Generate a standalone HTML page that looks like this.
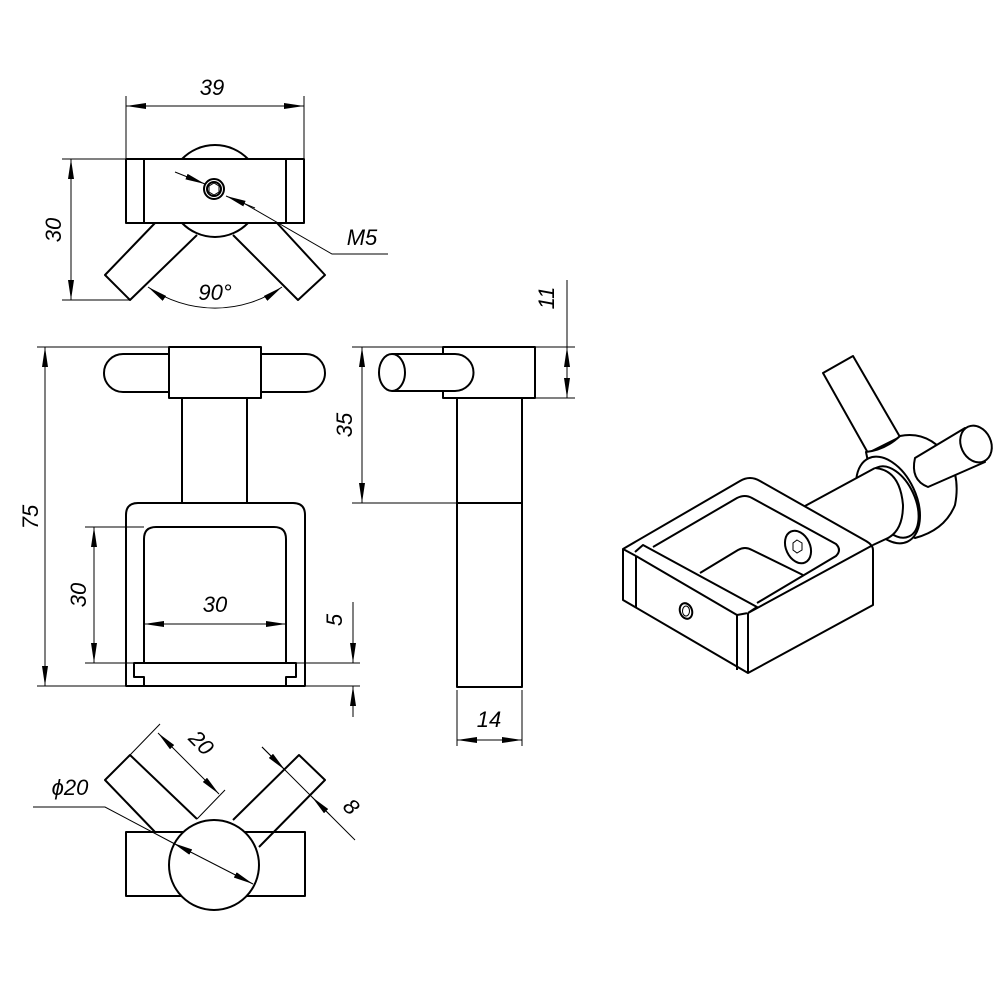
<!DOCTYPE html>
<html><head><meta charset="utf-8">
<style>
html,body{margin:0;padding:0;background:#fff;}
svg{display:block;}
text{font-family:"Liberation Sans",sans-serif;font-style:italic;font-size:22px;fill:#000;}
</style></head><body>
<svg width="1000" height="1000" viewBox="0 0 1000 1000" xmlns="http://www.w3.org/2000/svg">
<defs>
<marker id="a" viewBox="0 0 20 6" refX="20" refY="3" markerWidth="20" markerHeight="6" markerUnits="userSpaceOnUse" orient="auto-start-reverse">
<path d="M0,0 L20,3 L0,6 Z" fill="#000"/></marker>
</defs>
<g fill="none" stroke="#000" stroke-width="1">
<!-- TOP VIEW dims -->
<line x1="126" y1="96" x2="126" y2="158"/>
<line x1="304" y1="96" x2="304" y2="158"/>
<line x1="126" y1="106" x2="304" y2="106" marker-start="url(#a)" marker-end="url(#a)"/>
<line x1="62" y1="159" x2="126" y2="159"/>
<line x1="62" y1="300" x2="130" y2="300"/>
<line x1="71" y1="159" x2="71" y2="300" marker-start="url(#a)" marker-end="url(#a)"/>
<line x1="175" y1="172" x2="205" y2="184" marker-end="url(#a)"/>
<line x1="255" y1="208" x2="226" y2="196" marker-end="url(#a)"/>
<polyline points="240,201 332,254 388,254"/>
<path d="M148,287 A117,117 0 0 0 282,287" marker-start="url(#a)" marker-end="url(#a)"/>
<!-- FRONT VIEW dims -->
<line x1="37" y1="347" x2="170" y2="347"/>
<line x1="37" y1="686" x2="125" y2="686"/>
<line x1="45" y1="347" x2="45" y2="686" marker-start="url(#a)" marker-end="url(#a)"/>
<line x1="85" y1="527" x2="144" y2="527"/>
<line x1="85" y1="663" x2="360" y2="663"/>
<line x1="306" y1="686" x2="360" y2="686"/>
<line x1="94" y1="527" x2="94" y2="663" marker-start="url(#a)" marker-end="url(#a)"/>
<line x1="144" y1="624" x2="286" y2="624" marker-start="url(#a)" marker-end="url(#a)"/>
<line x1="353" y1="602" x2="353" y2="663" marker-end="url(#a)"/>
<line x1="353" y1="717" x2="353" y2="686" marker-end="url(#a)"/>
<line x1="352" y1="347" x2="443" y2="347"/>
<line x1="352" y1="503" x2="457" y2="503"/>
<line x1="362" y1="347" x2="362" y2="503" marker-start="url(#a)" marker-end="url(#a)"/>
<!-- SIDE VIEW dims -->
<line x1="535" y1="347" x2="575" y2="347"/>
<line x1="535" y1="398" x2="575" y2="398"/>
<line x1="567" y1="280" x2="567" y2="347"/>
<line x1="567" y1="347" x2="567" y2="398" marker-start="url(#a)" marker-end="url(#a)"/>
<line x1="457" y1="690" x2="457" y2="746"/>
<line x1="522" y1="690" x2="522" y2="746"/>
<line x1="457" y1="740" x2="522" y2="740" marker-start="url(#a)" marker-end="url(#a)"/>
<!-- BOTTOM VIEW dims -->
<line x1="130" y1="755" x2="160" y2="724"/>
<line x1="197" y1="819" x2="225" y2="790"/>
<line x1="158" y1="733" x2="219" y2="794" marker-start="url(#a)" marker-end="url(#a)"/>
<line x1="262" y1="747" x2="355" y2="840"/>
<line x1="262" y1="747" x2="285" y2="770" marker-end="url(#a)"/>
<line x1="330" y1="815" x2="312" y2="797" marker-end="url(#a)"/>
<polyline points="33,807 105,807 173,843"/>
<line x1="173" y1="843" x2="253" y2="884" marker-start="url(#a)" marker-end="url(#a)"/>
</g>

<g fill="none" stroke="#000" stroke-width="2" stroke-linejoin="round">
<!-- TOP VIEW -->
<path d="M182,159 A46,46 0 0 1 248,159"/>
<path d="M182,223 A46,46 0 0 0 248,223"/>
<rect x="126" y="159" width="178" height="64"/>
<line x1="144" y1="159" x2="144" y2="223"/>
<line x1="286" y1="159" x2="286" y2="223"/>
<circle cx="214" cy="189" r="10"/>
<circle cx="214" cy="189" r="7"/>
<polygon points="214,183 219,186 219,192 214,195 209,192 209,186" stroke-width="1"/>
<polyline points="155,223 105,275 130,300 197,235"/>
<polyline points="277,223 325,275 298,300 233,235"/>
<!-- FRONT VIEW -->
<path d="M169,354 H123 A19,19 0 0 0 123,392 H169"/>
<path d="M261,354 H306 A19,19 0 0 1 306,392 H261"/>
<rect x="169" y="347" width="92" height="51"/>
<line x1="182" y1="398" x2="182" y2="503"/>
<line x1="247" y1="398" x2="247" y2="503"/>
<path d="M126,686 V515 Q126,503 138,503 H293 Q305,503 305,515 V686 Z"/>
<path d="M144,663 V539 Q144,527 156,527 H274 Q286,527 286,539 V663"/>
<path d="M144,686 V677 H134 V663 H296 V677 H286 V686"/>
<!-- SIDE VIEW -->
<rect x="443" y="347" width="92" height="51"/>
<path d="M392,354 H455 A18.5,18.5 0 0 1 455,391 H392" fill="#fff"/>
<ellipse cx="392" cy="372.5" rx="13" ry="18.5" fill="#fff"/>
<rect x="457" y="398" width="65" height="289"/>
<line x1="457" y1="503" x2="522" y2="503"/>
<!-- BOTTOM VIEW -->
<rect x="126" y="832" width="179" height="64"/>
<polyline points="155,832 105,780 130,755 197,819"/>
<polyline points="259,847 325,780 299,755 233,820"/>
<circle cx="214" cy="865" r="45" fill="#fff"/>
</g>
<g fill="none" stroke="#000" stroke-width="1">
<line x1="173" y1="843" x2="253" y2="884" marker-start="url(#a)" marker-end="url(#a)"/>
</g>

<!-- ISOMETRIC -->
<g fill="#fff" stroke="#000" stroke-width="2" stroke-linejoin="round">
<!-- upper handle -->
<polygon points="823,373 853,356 900,437 868,453"/>
<!-- hub -->
<path d="M866,452 Q885,450 900,436 Q930,430 950,460 Q960,480 955,505 Q945,530 915,538 L880,520 Z"/>
<!-- right handle -->
<path d="M915,458 L965,428 L985,462 L928,487 Q910,480 915,458 Z"/>
<ellipse cx="976" cy="444" rx="15" ry="19" transform="rotate(-25 976 444)"/>
<!-- collar -->
<ellipse cx="888" cy="500" rx="28" ry="46" transform="rotate(-25 888 500)"/>
<ellipse cx="893" cy="502" rx="22" ry="38" transform="rotate(-25 893 502)"/>
<!-- shaft -->
<path d="M805,506 L875,468 Q900,470 903,505 Q903,530 888,538 L870,546 L820,560 Z" stroke="none"/>
<line x1="805" y1="506" x2="875" y2="468"/>
<path d="M875,468 Q900,470 903,505 Q903,530 888,538 L873,545"/>
<!-- box -->
<path d="M623,549 L740,481 Q750,475 760,481 L866,541 Q873,545 873,550 L873,605 L748,673 L623,600 Z"/>
<line x1="748" y1="613" x2="748" y2="673"/>
<line x1="737" y1="615" x2="737" y2="670"/>
<line x1="748" y1="613" x2="873" y2="545"/>
<line x1="636" y1="556" x2="636" y2="608"/>
<line x1="623" y1="549" x2="636" y2="556"/>
<line x1="636" y1="556" x2="737" y2="615"/>
<line x1="737" y1="615" x2="748" y2="613"/>
<polyline points="635,552 643,545 757,607 748,613"/>
<path d="M653,547 L737,498 Q745,494 752,498 L836,544 Q842,550 836,556 L757,603" />
<path d="M700,573 L738,550 Q745,546 752,550 L803,575"/>
</g>
<g fill="none" stroke="#000" stroke-width="2">
<ellipse cx="798" cy="547" rx="12" ry="17" transform="rotate(-25 798 547)"/>
<polygon points="797,540 802,543 802,550 797,553 793,550 793,543" stroke-width="1"/>
<ellipse cx="686" cy="611" rx="6" ry="8" transform="rotate(-20 686 611)"/>
<ellipse cx="686" cy="611" rx="3.5" ry="5" stroke-width="1"/>
</g>

<!-- TEXT -->
<text x="212" y="95" text-anchor="middle">39</text>
<text transform="translate(61,230) rotate(-90)" text-anchor="middle">30</text>
<text x="362" y="245" text-anchor="middle">M5</text>
<text x="215" y="300" text-anchor="middle">90°</text>
<text transform="translate(38,517) rotate(-90)" text-anchor="middle">75</text>
<text transform="translate(86,595) rotate(-90)" text-anchor="middle">30</text>
<text x="215" y="612" text-anchor="middle">30</text>
<text transform="translate(342,620) rotate(-90)" text-anchor="middle">5</text>
<text transform="translate(352,425) rotate(-90)" text-anchor="middle">35</text>
<text transform="translate(554,298) rotate(-90)" text-anchor="middle">11</text>
<text x="489" y="727" text-anchor="middle">14</text>
<text transform="translate(196,748) rotate(45)" text-anchor="middle">20</text>
<text transform="translate(346,812) rotate(45)" text-anchor="middle">8</text>
<text x="70" y="795" text-anchor="middle">ϕ20</text>
</svg>
</body></html>
